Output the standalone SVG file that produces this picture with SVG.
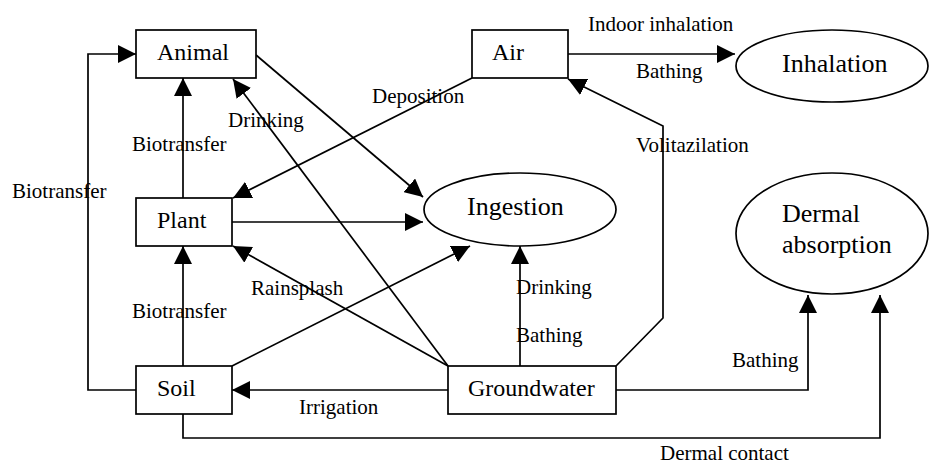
<svg xmlns="http://www.w3.org/2000/svg" width="941" height="464" viewBox="0 0 941 464">
  <style>
    .box { fill: #fff; stroke: #000; stroke-width: 1.7; }
    .ell { fill: #fff; stroke: #000; stroke-width: 1.7; }
    .edge { fill: none; stroke: #000; stroke-width: 1.7; marker-end: url(#arrow); }
    .plain { fill: none; stroke: #000; stroke-width: 1.7; }
    text { font-family: "Liberation Serif", "Times New Roman", serif; fill: #000; }
    .node { font-size: 24px; }
    .big { font-size: 26px; }
    .lbl { font-size: 21px; }
  </style>
  <defs>
    <marker id="arrow" markerUnits="userSpaceOnUse" markerWidth="18" markerHeight="18" refX="18" refY="9" orient="auto">
      <path d="M0,0 L18,9 L0,18 z" fill="#000"/>
    </marker>
  </defs>

  <!-- connectors -->
  <g id="connectors">
    <line class="edge" x1="568" y1="54" x2="735" y2="54"/>
    <line class="edge" x1="472" y1="78" x2="233" y2="198"/>
    <line class="edge" x1="256" y1="55" x2="423" y2="197"/>
    <line class="edge" x1="232" y1="222" x2="423" y2="222"/>
    <line class="edge" x1="183" y1="198" x2="183" y2="78"/>
    <line class="edge" x1="183" y1="366" x2="183" y2="246"/>
    <polyline class="edge" points="136,390 88,390 88,54 136,54"/>
    <line class="edge" x1="448" y1="366" x2="233" y2="79"/>
    <line class="edge" x1="448" y1="366" x2="233" y2="246"/>
    <line class="edge" x1="232" y1="366" x2="470" y2="246"/>
    <line class="edge" x1="520" y1="366" x2="520" y2="246"/>
    <line class="edge" x1="448" y1="390" x2="232" y2="390"/>
    <polyline class="edge" points="616,366 663,318 663,126 568,79"/>
    <polyline class="edge" points="616,390 808,390 808,295"/>
    <polyline class="edge" points="183,414 183,438 880,438 880,295"/>
  </g>

  <!-- connector labels -->
  <g id="labels" class="lbl">
    <text class="lbl" x="588" y="31">Indoor inhalation</text>
    <text class="lbl" x="636" y="78">Bathing</text>
    <text class="lbl" x="372" y="103">Deposition</text>
    <text class="lbl" x="636" y="152">Volitazilation</text>
    <text class="lbl" x="228" y="127">Drinking</text>
    <text class="lbl" x="132" y="151">Biotransfer</text>
    <text class="lbl" x="12" y="198">Biotransfer</text>
    <text class="lbl" x="251" y="295">Rainsplash</text>
    <text class="lbl" x="132" y="318">Biotransfer</text>
    <text class="lbl" x="516" y="294">Drinking</text>
    <text class="lbl" x="516" y="342">Bathing</text>
    <text class="lbl" x="299" y="414">Irrigation</text>
    <text class="lbl" x="732" y="367">Bathing</text>
    <text class="lbl" x="660" y="460">Dermal contact</text>
  </g>

  <!-- nodes -->
  <g id="animal">
    <rect class="box" x="136" y="30" width="120" height="48"/>
    <text class="node" x="157" y="60">Animal</text>
  </g>
  <g id="air">
    <rect class="box" x="472" y="30" width="96" height="48"/>
    <text class="node" x="492" y="60">Air</text>
  </g>
  <g id="plant">
    <rect class="box" x="136" y="198" width="96" height="48"/>
    <text class="node" x="157" y="228">Plant</text>
  </g>
  <g id="soil">
    <rect class="box" x="136" y="366" width="96" height="48"/>
    <text class="node" x="157" y="396">Soil</text>
  </g>
  <g id="groundwater">
    <rect class="box" x="448" y="366" width="168" height="48"/>
    <text class="node" x="468" y="396">Groundwater</text>
  </g>
  <g id="ingestion">
    <ellipse class="ell" cx="520" cy="209.5" rx="96" ry="36.5"/>
    <text class="big" x="467" y="215">Ingestion</text>
  </g>
  <g id="inhalation">
    <ellipse class="ell" cx="832" cy="66" rx="96" ry="36"/>
    <text class="big" x="782" y="72">Inhalation</text>
  </g>
  <g id="dermal-absorption">
    <ellipse class="ell" cx="832" cy="233.5" rx="96" ry="60.5"/>
    <text class="big" x="782" y="222">Dermal</text>
    <text class="big" x="782" y="253">absorption</text>
  </g>
</svg>
